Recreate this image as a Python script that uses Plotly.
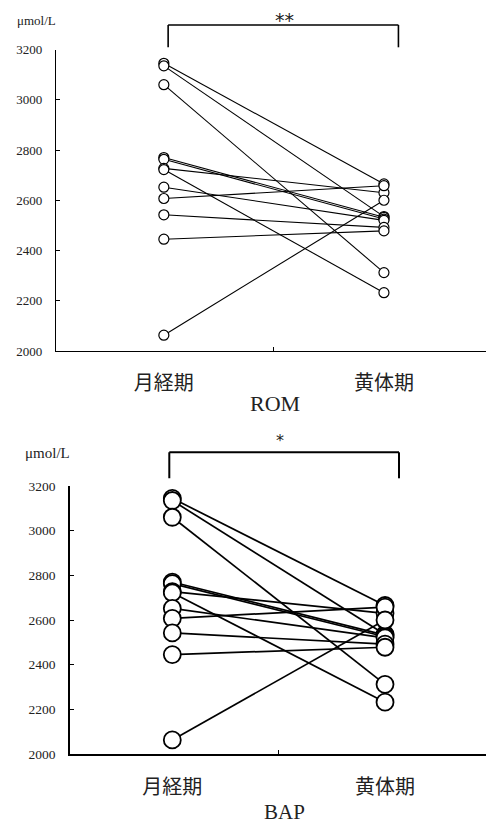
import plotly.graph_objects as go

# ---- data ----
periods = ["月経期", "黄体期"]
menstrual = [3145, 3135, 3060, 2770, 2763, 2727, 2722, 2652, 2607, 2542, 2445, 2063]
luteal = [2665, 2535, 2312, 2532, 2525, 2630, 2232, 2520, 2658, 2492, 2478, 2600]
y_ticks = [2000, 2200, 2400, 2600, 2800, 3000, 3200]
panel_titles = ["ROM", "BAP"]
sig_marks = ["**", "*"]
unit = "μmol/L"

# page body has an 8px default margin; figure sized to fit the window
OFF = 8
W, H = 494 - OFF, 826 - OFF
SERIF = "Liberation Serif, Times New Roman, serif"
CJK = "Noto Sans CJK JP"


def px(xr):
    return (xr - OFF) / W


def py(yr):
    return 1 - (yr - OFF) / H


def pair_lines(a, b):
    xs, ys = [], []
    for va, vb in zip(a, b):
        xs += [periods[0], periods[1], None]
        ys += [va, vb, None]
    return xs, ys


fig = go.Figure()

panels = [
    dict(xa="x", ya="y", msize=10, mlw=1.2, lw=1.1),
    dict(xa="x2", ya="y2", msize=17, mlw=1.8, lw=1.7),
]
for p in panels:
    lx, ly = pair_lines(menstrual, luteal)
    fig.add_trace(go.Scatter(x=lx, y=ly, mode="lines", xaxis=p["xa"], yaxis=p["ya"],
                             line=dict(color="black", width=p["lw"]),
                             showlegend=False, hoverinfo="skip"))
    mx = [periods[0]] * len(menstrual) + [periods[1]] * len(luteal)
    my = menstrual + luteal
    fig.add_trace(go.Scatter(x=mx, y=my, mode="markers", xaxis=p["xa"], yaxis=p["ya"],
                             marker=dict(symbol="circle", size=p["msize"], color="white",
                                         line=dict(color="black", width=p["mlw"])),
                             showlegend=False, cliponaxis=False))


def xaxis_cfg(domain, rng, lw, fs):
    return dict(domain=domain, range=rng, type="category", categoryorder="array",
                categoryarray=periods, showline=True, linecolor="black", linewidth=lw,
                ticks="inside", tickson="boundaries", ticklen=4, tickcolor="black",
                tickwidth=1, showgrid=False, zeroline=False, automargin=False,
                tickfont=dict(family=CJK, size=fs, color="#222"), ticklabelstandoff=14)


def yaxis_cfg(domain, lw, fs, anchor):
    return dict(domain=domain, range=[2000, 3200], tickvals=y_ticks,
                showline=True, linecolor="black", linewidth=lw, ticks="inside",
                ticklen=4, tickcolor="black", tickwidth=1.2, showgrid=False,
                zeroline=False, anchor=anchor, automargin=False,
                tickfont=dict(family=SERIF, size=fs, color="#222"), ticklabelstandoff=10)


fig.update_layout(
    width=W, height=H, margin=dict(l=0, r=0, t=0, b=0, autoexpand=False),
    paper_bgcolor="white", plot_bgcolor="white",
    xaxis=dict(xaxis_cfg([px(56), 1.0], [-0.49, 1.5], 1.3, 20), anchor="y"),
    yaxis=yaxis_cfg([py(351), py(49.5)], 1.3, 13, "x"),
    xaxis2=dict(xaxis_cfg([px(70.2), min(1.0, px(493.5))], [-0.48, 1.51], 2, 20), anchor="y2"),
    yaxis2=yaxis_cfg([py(754), py(486)], 2, 13.5, "x2"),
)

annotations = [
    dict(text=unit, x=36, y=21, size=13, anchor="middle"),
    dict(text=unit, x=47, y=453, size=15, anchor="middle"),
    dict(text=panel_titles[0], x=275, y=403, size=22, anchor="middle"),
    dict(text=panel_titles[1], x=284, y=826, size=21, anchor="bottom"),
]
for a in annotations:
    fig.add_annotation(text=a["text"], x=px(a["x"]), y=py(a["y"]), xref="paper", yref="paper",
                       showarrow=False, xanchor="center", yanchor=a["anchor"],
                       font=dict(family=SERIF, size=a["size"], color="#222"))

fig.add_annotation(text=sig_marks[0], x=px(284), y=py(20), xref="paper", yref="paper",
                   showarrow=False, xanchor="center", yanchor="middle",
                   font=dict(family="DejaVu Sans", size=19, color="#222"))
fig.add_annotation(text=sig_marks[1], x=px(279.5), y=py(440), xref="paper", yref="paper",
                   showarrow=False, xanchor="center", yanchor="middle",
                   font=dict(family="DejaVu Sans", size=16, color="#222"))

# brackets
brackets = [
    dict(xref="x", x0=0.0195, x1=1.0658, ytop=py(25), ybot=py(47.3), w=1.6),
    dict(xref="x2", x0=-0.0141, x1=1.0658, ytop=py(452.3), ybot=py(478.3), w=2),
]
for b in brackets:
    for (xa0, ya0, xa1, ya1) in [(b["x0"], b["ybot"], b["x0"], b["ytop"]),
                                 (b["x0"], b["ytop"], b["x1"], b["ytop"]),
                                 (b["x1"], b["ytop"], b["x1"], b["ybot"])]:
        fig.add_shape(type="line", xref=b["xref"], yref="paper", x0=xa0, y0=ya0,
                      x1=xa1, y1=ya1, line=dict(color="black", width=b["w"]))

fig.write_html("out.html")
